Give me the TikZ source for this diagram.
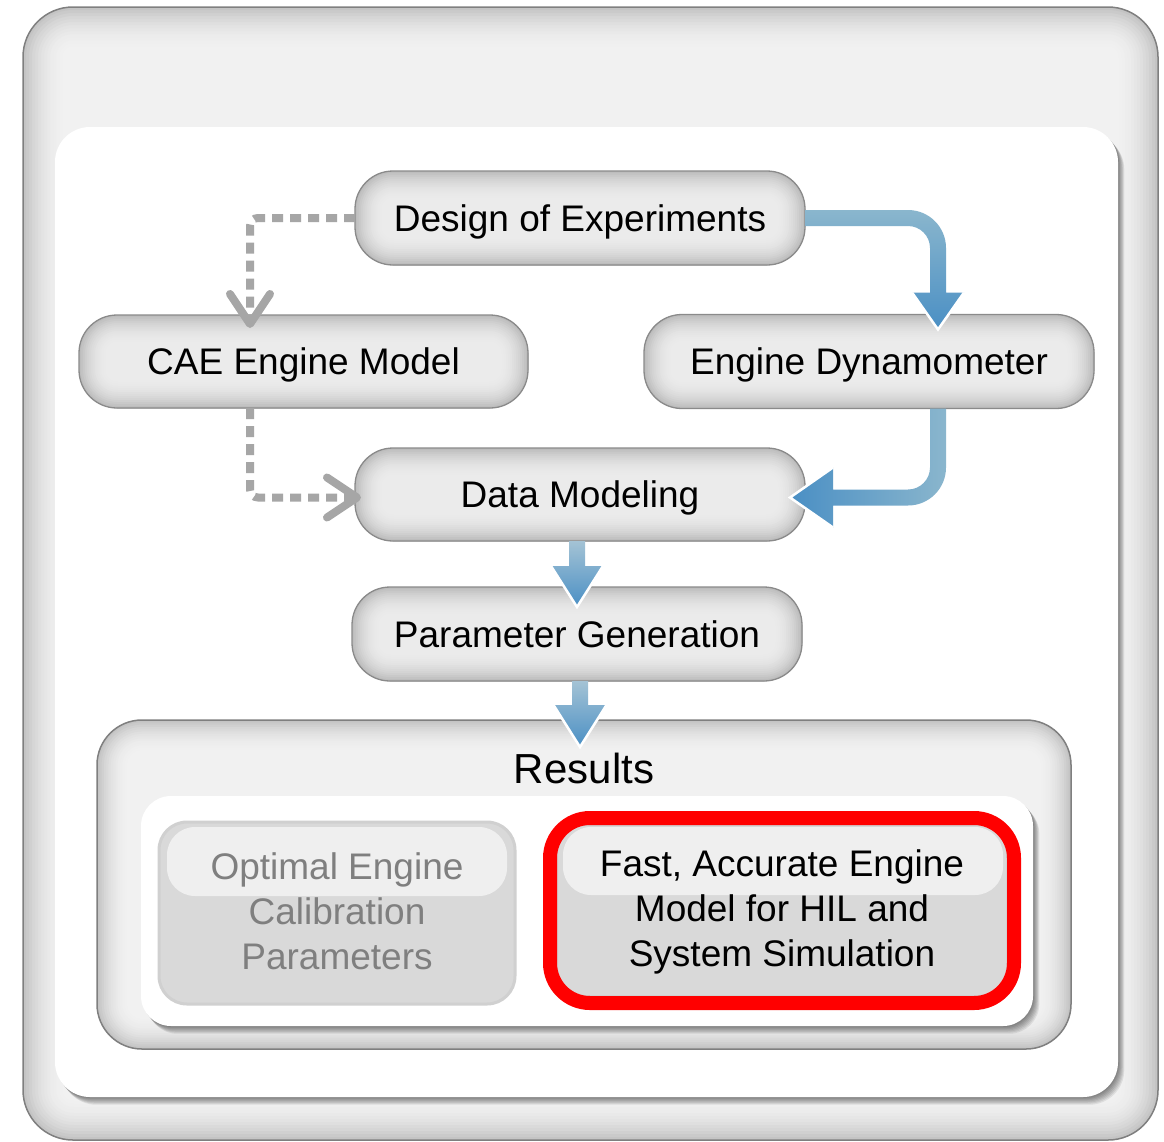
\documentclass[tikz,border=0pt]{standalone}
\usepackage{fontspec}
\setmainfont{Liberation Sans}
\usetikzlibrary{calc,arrows.meta}

\definecolor{outerborder}{HTML}{7F7F7F}
\definecolor{outermid}{HTML}{F1F1F1}
\definecolor{outeredge}{HTML}{C4C4C4}
\definecolor{boxborder}{HTML}{8A8A8A}
\definecolor{boxmid}{HTML}{EBEBEB}
\definecolor{boxedge}{HTML}{BDBDBD}
\definecolor{dotgray}{HTML}{A6A6A6}
\definecolor{bluelight}{HTML}{8AB6CD}
\definecolor{bluedark}{HTML}{4A8FC4}
\definecolor{bluepale}{HTML}{A4C3D5}
\definecolor{optfill}{HTML}{D9D9D9}
\definecolor{optborder}{HTML}{D0D0D0}
\definecolor{opthl}{HTML}{EFEFEF}
\definecolor{opttext}{HTML}{7F7F7F}
\definecolor{hotred}{HTML}{FF0000}

\newcommand\glowband[4]{%
  \foreach \k in {14,...,1}{%
    \pgfmathtruncatemacro\pp{100*((15-\k)/14)^2}%
    \draw[line width={2*\k*#3/14}, draw=#1!\pp!#2, rounded corners=#4]
      (path picture bounding box.south west) rectangle (path picture bounding box.north east);
  }}

\newcommand\softshadow[3]{%
  \foreach \k in {1,...,7}{%
    \fill[black, opacity=0.08, rounded corners=#3]
      ($(#1)+(\k*0.9,\k*1.1)$) rectangle ($(#2)+(\k*0.9,\k*1.1)$);
  }}

\begin{document}
\begin{tikzpicture}[x=1pt,y=-1pt,
  glow/.style n args={4}{path picture={\glowband{#1}{#2}{#3}{#4}}},
  procbox/.style={draw=boxborder, line width=1.3, fill=boxmid, rounded corners=38,
    minimum width=450, minimum height=94, inner sep=0, outer sep=0,
    text height=26.5, text depth=0,
    font=\fontsize{37}{44}\selectfont, glow={boxedge}{boxmid}{28}{38}},
  groupbox/.style={draw=outerborder, line width=1.5, fill=outermid, rounded corners=45,
    minimum width=974, minimum height=329, inner sep=0, outer sep=0,
    glow={outeredge}{outermid}{32}{45}},
  resultbox/.style={rounded corners=28, inner sep=0, outer sep=0, align=center,
    text depth=4, font=\fontsize{37}{45}\selectfont},
  dotconn/.style={draw=dotgray, line width=8, dash pattern=on 11pt off 7pt,
    rounded corners=8, -{Straight Barb[length=30pt,width=40pt,round]}},
  headline/.style={draw=white, line width=2.5, line join=miter}
]
\useasboundingbox (0,0) rectangle (1164,1141);
\clip (0,0) rectangle (1164,1141);

% outer frame
\path[draw=outerborder, line width=1.5, fill=outermid, rounded corners=50,
  glow={outeredge}{outermid}{42}{50}] (23,7) rectangle (1158,1140);
% inner white panel
\softshadow{55,127}{1118,1097}{35}
\fill[white, rounded corners=35] (55,127) rectangle (1118,1097);

% process nodes
\node[procbox] (doe) at (580,218) {Design of Experiments};
\node[procbox, minimum width=449, minimum height=93] (cae) at (303.5,361.5) {CAE Engine Model};
\node[procbox] (dyn) at (869,361.5) {Engine Dynamometer};
\node[procbox, minimum height=93] (dm) at (580,494.5) {Data Modeling};
\node[procbox] (pg) at (577,634) {Parameter Generation};

% results group
\node[groupbox] (resgrp) at (584,884.5) {};
\softshadow{141,796}{1033,1026}{30}
\fill[white, rounded corners=30] (141,796) rectangle (1033,1026);
\node[font=\fontsize{42}{50}\selectfont] (reslabel) at (584,768) {Results};

\node[resultbox, draw=optborder, line width=3, fill=optfill, text=opttext,
  minimum width=356, minimum height=182,
  path picture={\fill[opthl, rounded corners=28]
    ($(path picture bounding box.north west)+(8,5)$) rectangle
    ($(path picture bounding box.north east)+(-8,74)$);}]
  (opt) at (337,913) {Optimal Engine\\Calibration\\Parameters};

\node[resultbox, draw=optborder, line width=2, fill=optfill, text=black,
  minimum width=450, minimum height=171,
  path picture={\fill[opthl, rounded corners=28]
    ($(path picture bounding box.north west)+(6,2)$) rectangle
    ($(path picture bounding box.north east)+(-4,70)$);}]
  (fast) at (782,910.5) {Fast, Accurate Engine\\Model for HIL and\\System Simulation};
\draw[hotred, line width=14, rounded corners=40]
  ($(fast.north west)+(-7,-7)$) rectangle ($(fast.south east)+(7,7)$);

% dotted connectors
\draw[dotconn] (doe.west) -| ($(cae.north)+(-53.5,13)$);
\draw[dotconn] ($(cae.south)+(-53.5,0)$) |- ($(dm.west)+(6,3)$);

% blue connector: DoE -> Dynamometer
\coordinate (k1) at ([xshift=69]dyn.north);
\coordinate (j1) at (k1 |- doe.east);
\shade[top color=bluelight, bottom color=bluedark]
  ($(doe.east)+(0,-8)$) -- ($(j1)+(-30,-8)$) arc[start angle=270, end angle=360, radius=38]
  -- ($(k1)+(8,-22)$) -- ($(k1)+(26,-22)$) -- ($(k1)+(0,15)$) -- ($(k1)+(-26,-22)$)
  -- ($(k1)+(-8,-22)$) -- ($(j1)+(-8,30)$) arc[start angle=0, end angle=-90, radius=22]
  -- ($(doe.east)+(0,8)$) -- cycle;
\draw[headline] ($(k1)+(26,-22)$) -- ($(k1)+(0,15)$) -- ($(k1)+(-26,-22)$);

% blue connector: Dynamometer -> Data Modeling
\coordinate (k2) at ([xshift=69]dyn.south);
\coordinate (c2a) at (k2 |- dm.east);
\coordinate (c2) at ($(c2a)+(0,3)$);
\shade[left color=bluedark, right color=bluelight]
  ($(k2)+(-8,0)$) -- ($(c2)+(-8,-30)$) arc[start angle=0, end angle=90, radius=22]
  -- ($(c2)+(-105,-8)$) -- ($(c2)+(-105,-30)$) -- ($(dm.east)+(-15,3)$)
  -- ($(c2)+(-105,30)$) -- ($(c2)+(-105,8)$) -- ($(c2)+(-30,8)$)
  arc[start angle=90, end angle=0, radius=38] -- ($(k2)+(8,0)$) -- cycle;
\draw[headline] ($(c2)+(-105,-30)$) -- ($(dm.east)+(-15,3)$) -- ($(c2)+(-105,30)$);

% blue connector: Data Modeling -> Parameter Generation
\coordinate (a3) at (pg.north |- dm.south);
\coordinate (t3) at ($(pg.north)+(0,20)$);
\shade[top color=bluepale, bottom color=bluedark]
  ($(a3)+(-8,0)$) -- ($(a3)+(-8,25)$) -- ($(a3)+(-26,25)$) -- (t3)
  -- ($(a3)+(26,25)$) -- ($(a3)+(8,25)$) -- ($(a3)+(8,0)$) -- cycle;
\draw[headline] ($(a3)+(-26,25)$) -- (t3) -- ($(a3)+(26,25)$);

% blue connector: Parameter Generation -> Results
\coordinate (a4) at ([xshift=3]pg.south);
\coordinate (t4) at ($(resgrp.north)+(-4,27)$);
\shade[top color=bluepale, bottom color=bluedark]
  ($(a4)+(-8,0)$) -- ($(a4)+(-8,24)$) -- ($(a4)+(-26.5,24)$) -- (t4)
  -- ($(a4)+(26.5,24)$) -- ($(a4)+(8,24)$) -- ($(a4)+(8,0)$) -- cycle;
\draw[headline] ($(a4)+(-26.5,24)$) -- (t4) -- ($(a4)+(26.5,24)$);
\end{tikzpicture}
\end{document}
